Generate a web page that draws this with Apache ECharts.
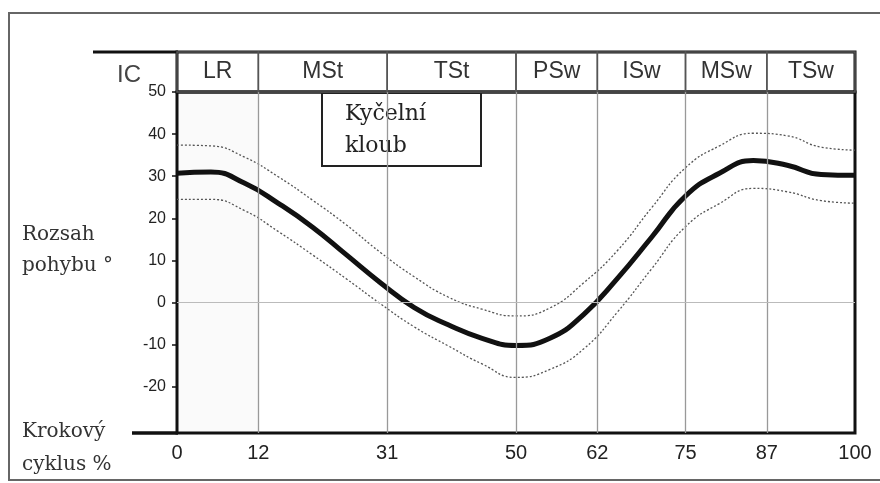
<!DOCTYPE html>
<html>
<head>
<meta charset="utf-8">
<script src="https://cdn.jsdelivr.net/npm/echarts@6/dist/echarts.min.js"></script>
<style>
    html, body { margin: 0; padding: 0; background: #fff; }
    #chart { width: 880px; height: 483px; }
</style>
</head>
<body>
<div id="chart"></div>
<script>
// faze krokoveho cyklu (hranice v %)
const phaseNames = ['LR', 'MSt', 'TSt', 'PSw', 'ISw', 'MSw', 'TSw']
const phaseBounds = [0, 12, 31, 50, 62, 75, 87, 100]
const yTicks = [-20, -10, 0, 10, 20, 30, 40, 50]

// krokovy cyklus % a rozsah pohybu °
const cycle = [0, 5, 10, 15, 20, 25, 30, 35, 40, 45, 50, 55, 60, 65, 70, 75, 80, 85, 90, 95, 100]
const meanAngle = [30.7, 31, 28.3, 23.5, 17.9, 11.3, 4.7, -1.2, -5.3, -8.5, -10.2, -8.5, -2.8, 5.8, 15.5, 25.3, 30.7, 33.7, 32.6, 30.4, 30.2]
const upperAngle = [37.4, 37.2, 34.5, 29.8, 24.3, 18.4, 11.9, 6.1, 1.3, -1.6, -3.2, -1.3, 4.7, 12.4, 22.5, 32, 37.2, 40.2, 39.6, 36.9, 36.2]
const lowerAngle = [24.5, 24.5, 21.8, 16.8, 11.3, 5.6, -0.3, -5.8, -10.3, -14.6, -17.8, -15.9, -11, -2.2, 8, 18, 23.5, 27.1, 26.3, 24.2, 23.6]

const pairs = arr => cycle.map((x, i) => [x, arr[i]])

const chart = echarts.init(document.getElementById('chart'))

const bandStyle = { color: '#555', width: 1.3, type: [2, 2] }

const option = {
    backgroundColor: '#fff',
    animation: false,
    grid: [
        // graf
        { left: 177, right: 25, top: 92, bottom: 50, show: true, borderColor: '#111', borderWidth: 3 },
        // zahlavi s fazemi
        { left: 177, right: 25, top: 52, height: 40, show: true, borderColor: '#111', borderWidth: 3 }
    ],
    xAxis: [
        {
            type: 'value', gridIndex: 0, min: 0, max: 100,
            axisLine: { show: false },
            axisTick: { show: false },
            splitLine: { show: false },
            axisLabel: {
                customValues: phaseBounds,
                fontFamily: 'Liberation Sans', fontSize: 20, color: '#222', margin: 10
            }
        },
        { type: 'value', gridIndex: 1, min: 0, max: 100, show: false }
    ],
    yAxis: [
        {
            type: 'value', gridIndex: 0, min: -31, max: 50,
            axisLine: { show: false },
            axisTick: { show: true, customValues: yTicks, length: 5, lineStyle: { color: '#111', width: 1.5 } },
            splitLine: { show: false },
            axisLabel: {
                customValues: yTicks,
                fontFamily: 'Liberation Sans', fontSize: 16, color: '#222', margin: 11
            }
        },
        { type: 'value', gridIndex: 1, min: 0, max: 1, show: false }
    ],
    series: [
        {
            // pomocne cary: LR, hranice fazi, nula
            type: 'line', xAxisIndex: 0, yAxisIndex: 0, data: [], z: 1, silent: true,
            markArea: {
                silent: true,
                itemStyle: { color: 'rgba(0,0,0,0.02)' },
                data: [[{ xAxis: phaseBounds[0] }, { xAxis: phaseBounds[1] }]]
            },
            markLine: {
                silent: true, symbol: 'none', label: { show: false },
                lineStyle: { color: '#999', width: 1.3, type: 'solid' },
                data: phaseBounds.slice(1, -1).map(v => ({ xAxis: v }))
                    .concat([{ yAxis: 0, lineStyle: { color: '#bbb', width: 1.2, type: 'solid' } }])
            }
        },
        {
            name: 'horni', type: 'line', data: pairs(upperAngle), smooth: 0.5,
            symbol: 'none', lineStyle: bandStyle, z: 3
        },
        {
            name: 'dolni', type: 'line', data: pairs(lowerAngle), smooth: 0.5,
            symbol: 'none', lineStyle: bandStyle, z: 3
        },
        {
            name: 'prumer', type: 'line', data: pairs(meanAngle), smooth: 0.5,
            symbol: 'none', lineStyle: { color: '#111', width: 5 }, z: 4
        },
        {
            // zahlavi
            type: 'line', xAxisIndex: 1, yAxisIndex: 1, data: [[0, 0]], symbol: 'none', silent: true,
            lineStyle: { width: 0 },
            markArea: {
                silent: true,
                itemStyle: { color: 'transparent', borderColor: '#555', borderWidth: 1.5 },
                label: {
                    show: true, position: 'inside',
                    fontFamily: 'Liberation Sans', fontSize: 23, color: '#333'
                },
                data: phaseNames.map((n, i) => [
                    { name: n, xAxis: phaseBounds[i], yAxis: 0 },
                    { xAxis: phaseBounds[i + 1], yAxis: 1 }
                ])
            }
        }
    ],
    graphic: [
        // ramecek
        { type: 'rect', shape: { x: 9, y: 13, width: 890, height: 467 }, style: { fill: 'none', stroke: '#666', lineWidth: 2 }, z: 0 },
        // prodlouzeni horni cary a osy x
        { type: 'line', shape: { x1: 93, y1: 52, x2: 178, y2: 52 }, style: { stroke: '#111', lineWidth: 3 } },
        { type: 'line', shape: { x1: 132, y1: 433, x2: 178, y2: 433 }, style: { stroke: '#111', lineWidth: 3.5 } },
        { type: 'text', left: 117, top: 63, style: { text: 'IC', fontFamily: 'Liberation Sans', fontSize: 24, fill: '#444' } },
        // popisky os
        { type: 'text', left: 22, top: 219, style: { text: 'Rozsah\npohybu °', fontFamily: 'DejaVu Serif', fontSize: 20, lineHeight: 31, fill: '#333' } },
        { type: 'text', left: 22, top: 415, style: { text: 'Krokový\ncyklus %', fontFamily: 'DejaVu Serif', fontSize: 20, lineHeight: 33, fill: '#333' } },
        // ramecek s nazvem
        {
            type: 'group', left: 321, top: 92, z: 10,
            children: [
                { type: 'rect', shape: { x: 0, y: 0, width: 159, height: 73 }, style: { fill: '#fff', stroke: '#222', lineWidth: 2 } },
                { type: 'text', x: 23, y: 5, style: { text: 'Kyčelní\nkloub', fontFamily: 'DejaVu Serif', fontSize: 22, lineHeight: 32, fill: '#222' } }
            ]
        }
    ]
}

chart.setOption(option)
</script>
</body>
</html>
